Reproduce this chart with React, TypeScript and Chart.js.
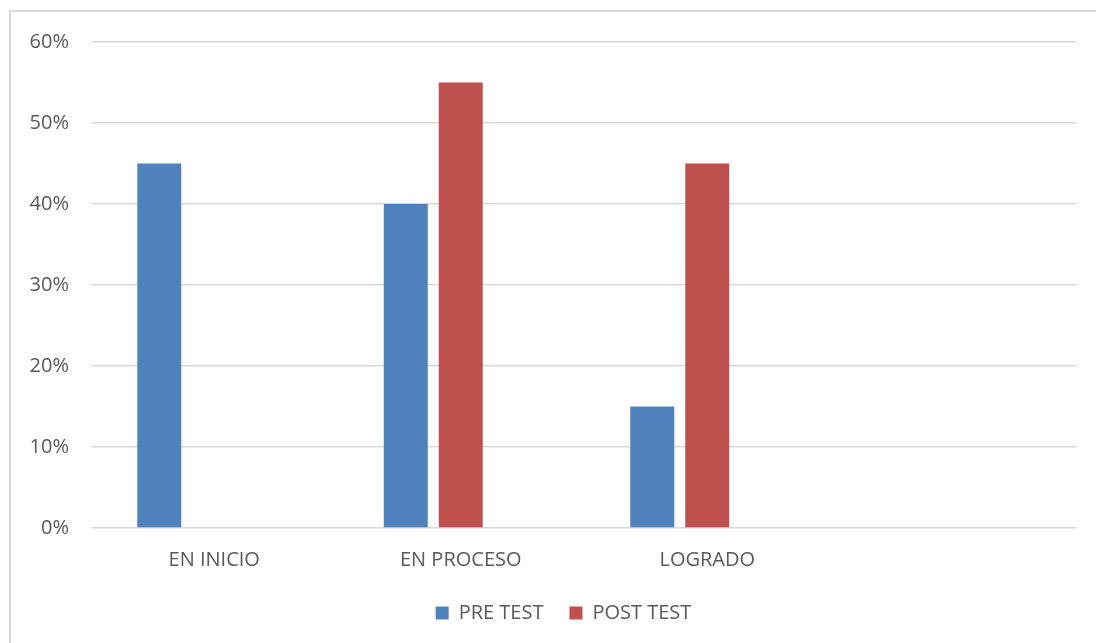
import React, { useEffect, useRef } from "react";
import { Chart, registerables } from "chart.js";

Chart.register(...registerables);

const categories = ["EN INICIO", "EN PROCESO", "LOGRADO", ""];
const preTest = [0.45, 0.4, 0.15, null];
const postTest = [0, 0.55, 0.45, null];
const emptySeries = [null, null, null, null];
const seriesNames = ["PRE TEST", "POST TEST", ""];
const yTicks = [0, 0.1, 0.2, 0.3, 0.4, 0.5, 0.6];

const FONT = "'Open Sans', 'Liberation Sans', sans-serif";
const TEXT = "#595959";
const GRID = "#d9d9d9";

const legendShift = {
  id: "legendShift",
  afterLayout(chart: any) {
    const lg = chart.legend;
    if (lg) {
      lg.left += 25;
      lg.right += 25;
    }
  },
};

export default function App() {
  const ref = useRef<HTMLCanvasElement | null>(null);

  useEffect(() => {
    if (!ref.current) return;
    const barOpts = { borderWidth: 0, categoryPercentage: 0.669, barPercentage: 0.8 };
    const chart = new Chart(ref.current, {
      type: "bar",
      data: {
        labels: categories,
        datasets: [
          { label: seriesNames[0], data: preTest, backgroundColor: "#4F81BD", ...barOpts },
          { label: seriesNames[1], data: postTest, backgroundColor: "#C0504D", ...barOpts },
          { label: seriesNames[2], data: emptySeries, backgroundColor: "#9BBB59", ...barOpts },
        ],
      },
      plugins: [legendShift],
      options: {
        animation: false,
        responsive: false,
        maintainAspectRatio: false,
        layout: { padding: { left: 0, right: 19, top: 42, bottom: 10 } },
        plugins: {
          tooltip: { enabled: false },
          legend: {
            position: "bottom",
            labels: {
              font: { family: FONT, size: 20 },
              color: TEXT,
              boxWidth: 13,
              boxHeight: 13,
              padding: 26,
              filter: (item: any) => item.datasetIndex < 2,
            },
          },
        },
        scales: {
          x: {
            grid: { display: false, drawTicks: false },
            border: { display: false },
            ticks: {
              font: { family: FONT, size: 20 },
              color: TEXT,
              padding: 20,
              maxRotation: 0,
            },
            afterFit: (s: any) => {
              s.height = 49;
            },
          },
          y: {
            min: 0,
            max: 0.6,
            grid: { color: GRID, lineWidth: 1.5, drawTicks: false },
            border: { display: false },
            afterBuildTicks: (s: any) => {
              s.ticks = yTicks.map((v) => ({ value: v }));
            },
            ticks: {
              font: { family: FONT, size: 20 },
              color: TEXT,
              padding: 22,
              callback: (v: any) => Math.round(Number(v) * 100) + "%",
            },
            afterFit: (s: any) => {
              s.width = 91;
            },
          },
        },
      },
    });
    return () => chart.destroy();
  }, []);

  return (
    <div
      style={{
        position: "fixed",
        left: 0,
        top: 0,
        width: 1096,
        height: 643,
        overflow: "hidden",
        background: "#fff",
      }}
    >
      <div
        style={{
          position: "absolute",
          left: 9,
          top: 10,
          width: 1200,
          height: 800,
          borderLeft: "2px solid #d9d9d9",
          borderTop: "2px solid #d9d9d9",
        }}
      />
      <canvas
        ref={ref}
        width={1096}
        height={643}
        style={{ position: "absolute", left: 0, top: 0 }}
      />
    </div>
  );
}
